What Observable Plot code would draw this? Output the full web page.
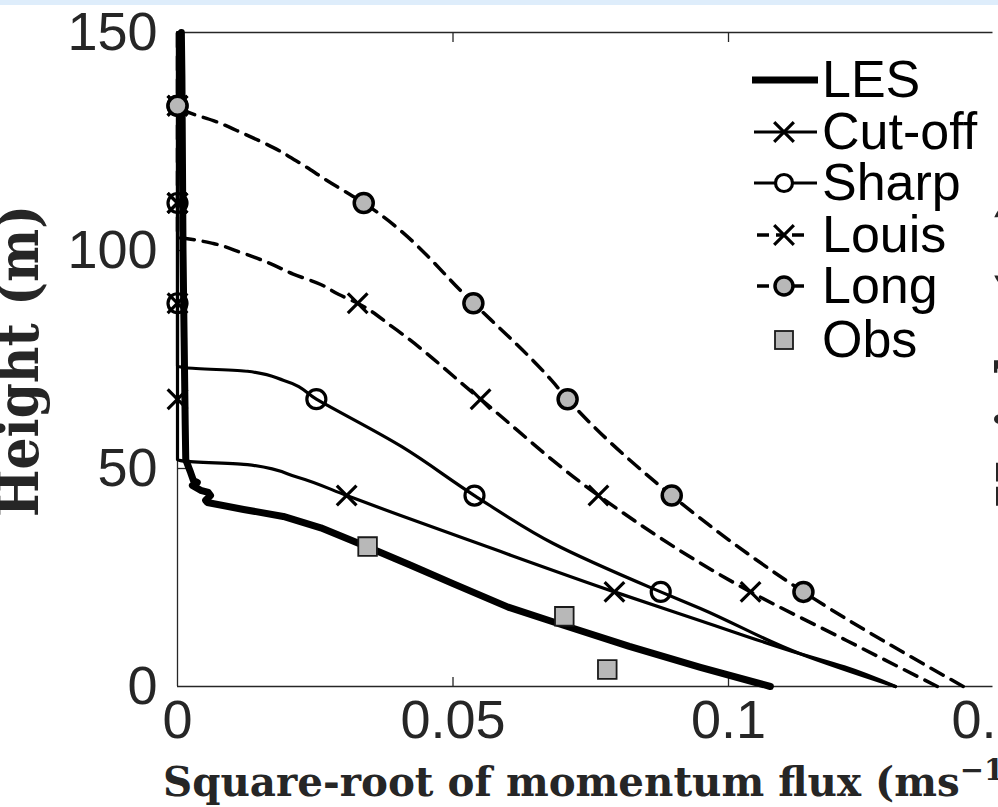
<!DOCTYPE html>
<html>
<head>
<meta charset="utf-8">
<script src="https://cdn.jsdelivr.net/npm/d3@7"></script>
<script src="https://cdn.jsdelivr.net/npm/@observablehq/plot@0.6"></script>
<style>
  html, body { margin: 0; padding: 0; background: #fff; overflow: hidden; }
  #chart { width: 998px; height: 807px; overflow: hidden; }
</style>
</head>
<body>
<div id="chart"></div>
<script>
// Axis ticks
const xTickValues = [0, 0.05, 0.1, 0.15];
const xTickLabels = ["0", "0.05", "0.1", "0.15"];
const yTickValues = [0, 50, 100, 150];
const yTickLabels = ["0", "50", "100", "150"];

// LES profile (thick line), listed from the top down
const lesFlux   = [0.0007, 0.0008, 0.0009, 0.0010, 0.0012, 0.0013, 0.0014, 0.0015, 0.0024, 0.0029, 0.0036, 0.0027, 0.0042, 0.0056, 0.0060, 0.0051, 0.0054, 0.0120, 0.0192, 0.0260, 0.0345, 0.0420, 0.0500, 0.0600, 0.0702, 0.0820, 0.0949, 0.1076];
const lesHeight = [150, 140, 120, 100, 80, 70, 60, 52, 49, 47.2, 46.8, 46.1, 45, 44.5, 43.8, 42.7, 42.2, 40.6, 39, 36.4, 32, 28, 23.6, 18.2, 14, 9.2, 4.4, 0];

// Cut-off scheme
const cutoffFlux   = [0, 0, 0.0011, 0.0127, 0.0218, 0.0307, 0.0405, 0.0550, 0.0793, 0.0949, 0.1130, 0.1210, 0.1303];
const cutoffHeight = [150, 52.0, 51.7, 50.9, 48, 43.8, 39.2, 32.6, 21.7, 15.1, 7.5, 4.5, 0];

// Sharp scheme
const sharpFlux   = [0, 0, 0.0015, 0.0127, 0.0193, 0.0252, 0.0407, 0.0539, 0.0682, 0.0877, 0.0949, 0.1130, 0.1303];
const sharpHeight = [150, 73.5, 73.1, 72.3, 70.2, 65.9, 55.0, 43.8, 32.8, 21.7, 17.9, 7.5, 0];

// Louis scheme
const louisFlux   = [0, 0, 0.0018, 0.0065, 0.0114, 0.0163, 0.0210, 0.0260, 0.0293, 0.0327, 0.0392, 0.0550, 0.0764, 0.1040, 0.1215, 0.1379];
const louisHeight = [150, 103.0, 102.7, 101.6, 99.6, 97.3, 94.6, 92.2, 89.9, 87.9, 82.3, 65.9, 43.8, 21.7, 10.5, 0];

// Long-tail scheme
const longFlux   = [0, 0.0020, 0.0065, 0.0120, 0.0174, 0.0223, 0.0272, 0.0338, 0.0537, 0.0679, 0.0708, 0.0897, 0.1136, 0.1426];
const longHeight = [133.2, 131.7, 129.8, 126.8, 123.6, 120, 116, 110.9, 87.9, 70.2, 65.9, 43.8, 21.7, 0];

// Marker levels shared by the four schemes
const markHeight     = [21.7, 43.8, 65.9, 87.9, 110.9, 133.2];
const cutoffMarkFlux = [0.0793, 0.0307, 0, 0, 0, 0];
const sharpMarkFlux  = [0.0877, 0.0539, 0.0252, 0, 0, 0];
const louisMarkFlux  = [0.1040, 0.0764, 0.0550, 0.0327, 0, 0];
const longMarkFlux   = [0.1136, 0.0897, 0.0708, 0.0537, 0.0338, 0];

// Observations
const obsFlux   = [0.0345, 0.0702, 0.0780];
const obsHeight = [32.1, 16.1, 3.9];

const legendNames = ["LES", "Cut-off", "Sharp", "Louis", "Long", "Obs"];

const pts = (xs, ys) => xs.map((x, i) => ({x, y: ys[i]}));
// profiles drawn as x = f(height), ordered by height
const profile = (xs, ys) => pts(xs, ys).sort((a, b) => a.y - b.y);
const ink = "#000";
const axisInk = "#262626";
const grayFill = "#b8b8b8";
const dash = "14,9";

const W = 998, H = 807, mL = 177, mT = 32, mB = 121;

const chart = Plot.plot({
  width: W,
  height: H,
  marginLeft: mL,
  marginRight: 0,
  marginTop: mT,
  marginBottom: mB,
  x: {domain: [0, 0.149]},
  y: {domain: [0, 150]},
  style: {fontFamily: "'Liberation Sans', Arial, Helvetica, sans-serif", color: axisInk, background: "#fff"},
  marks: [
    // box lines
    Plot.ruleX([0], {y1: 0, y2: 150, stroke: axisInk, strokeWidth: 1.3}),
    Plot.ruleY([0, 150], {x1: 0, x2: 0.148, stroke: axisInk, strokeWidth: 1.3}),
    // inward ticks
    Plot.axisX({ticks: [0.05, 0.1], tickSize: 9, dy: -9, tickFormat: () => "", label: null, stroke: axisInk, strokeWidth: 1.3}),
    Plot.axisX({anchor: "top", ticks: [0.05, 0.1], tickSize: 9, dy: 9, tickFormat: () => "", label: null, stroke: axisInk, strokeWidth: 1.3}),
    Plot.axisY({ticks: [50, 100], tickSize: 9, dx: 9, tickFormat: () => "", label: null, stroke: axisInk, strokeWidth: 1.3}),
    // tick labels
    Plot.axisX({ticks: xTickValues, tickSize: 0, tickPadding: 13, fontSize: 54, fill: axisInk,
      tickFormat: d => xTickLabels[xTickValues.indexOf(d)], label: null}),
    Plot.axisY({ticks: yTickValues, tickSize: 0, tickPadding: 20, fontSize: 54, fill: axisInk,
      tickFormat: d => yTickLabels[yTickValues.indexOf(d)], label: null}),

    // LES
    Plot.line(pts(lesFlux, lesHeight), {x: "x", y: "y", stroke: ink, strokeWidth: 7, curve: "linear", strokeLinejoin: "round"}),

    // Cut-off
    Plot.line(profile(cutoffFlux, cutoffHeight), {x: "x", y: "y", stroke: ink, strokeWidth: 3.2, curve: "monotone-y"}),
    Plot.dot(pts(cutoffMarkFlux, markHeight), {x: "x", y: "y", symbol: "times", r: 9, stroke: ink, strokeWidth: 3.2}),

    // Sharp
    Plot.line(profile(sharpFlux, sharpHeight), {x: "x", y: "y", stroke: ink, strokeWidth: 3.2, curve: "monotone-y"}),
    Plot.dot(pts(sharpMarkFlux, markHeight), {x: "x", y: "y", symbol: "circle", r: 9.5, stroke: ink, fill: "none", strokeWidth: 3.2}),

    // Louis
    Plot.line(profile(louisFlux, louisHeight), {x: "x", y: "y", stroke: ink, strokeWidth: 3.5, strokeDasharray: dash, curve: "monotone-y"}),
    Plot.dot(pts(louisMarkFlux, markHeight), {x: "x", y: "y", symbol: "times", r: 9, stroke: ink, strokeWidth: 3.2}),

    // Long
    Plot.line(profile(longFlux, longHeight), {x: "x", y: "y", stroke: ink, strokeWidth: 3.5, strokeDasharray: dash, curve: "monotone-y"}),
    Plot.dot(pts(longMarkFlux, markHeight), {x: "x", y: "y", symbol: "circle", r: 9.5, stroke: ink, fill: grayFill, strokeWidth: 3.5}),

    // Observations
    Plot.dot(pts(obsFlux, obsHeight), {x: "x", y: "y", symbol: "square", r: 10.5, stroke: "#1a1a1a", fill: grayFill, strokeWidth: 1.8})
  ]
});

const svg = d3.select(chart);

// thin band along the top edge
svg.insert("rect", ":first-child").attr("x", 0).attr("y", 0).attr("width", W).attr("height", 5).attr("fill", "#deedfb");

// axis titles
const serif = "'DejaVu Serif', 'Liberation Serif', serif";
svg.append("text")
  .attr("transform", "translate(38,361) rotate(-90)")
  .attr("text-anchor", "middle")
  .attr("font-family", serif).attr("font-weight", "bold").attr("font-size", 56)
  .attr("fill", axisInk)
  .attr("textLength", 312).attr("lengthAdjust", "spacingAndGlyphs")
  .text("Height (m)");

// neighbouring panel's y title, mostly outside the page
svg.append("text")
  .attr("transform", "translate(1037,352) rotate(-90)")
  .attr("text-anchor", "middle")
  .attr("font-family", serif).attr("font-weight", "bold").attr("font-size", 56)
  .attr("fill", axisInk)
  .attr("textLength", 312).attr("lengthAdjust", "spacingAndGlyphs")
  .text("Height (m)");

const xt = svg.append("text")
  .attr("x", 163).attr("y", 796)
  .attr("text-anchor", "start")
  .attr("font-family", serif).attr("font-weight", "bold").attr("font-size", 40.4)
  .attr("fill", axisInk);
xt.append("tspan").text("Square-root of momentum flux (ms");
xt.append("tspan").attr("dy", -16).attr("font-size", 29).text("\u22121");
xt.append("tspan").attr("dy", 16).text(")");

// legend
const lg = svg.append("g")
  .attr("font-family", "'Liberation Sans', Arial, Helvetica, sans-serif")
  .attr("font-size", 52).attr("fill", "#000").attr("text-anchor", "start");
const rowY = [80, 132, 183, 235, 286, 340];
const textX = 822;
legendNames.forEach((name, i) => {
  lg.append("text").attr("x", textX).attr("y", rowY[i] + 17).attr("text-anchor", "start").text(name);
});
const cx = 784;
const timesPath = d3.symbol(d3.symbolTimes, Math.PI * 81)();
// LES
lg.append("line").attr("x1", 752).attr("x2", 818).attr("y1", rowY[0]).attr("y2", rowY[0]).attr("stroke", ink).attr("stroke-width", 7);
// Cut-off
lg.append("line").attr("x1", 754).attr("x2", 817).attr("y1", rowY[1]).attr("y2", rowY[1]).attr("stroke", ink).attr("stroke-width", 3.2);
lg.append("path").attr("transform", `translate(${cx},${rowY[1]})`).attr("d", timesPath).attr("stroke", ink).attr("stroke-width", 3.2).attr("fill", "none");
// Sharp
lg.append("line").attr("x1", 754).attr("x2", 817).attr("y1", rowY[2]).attr("y2", rowY[2]).attr("stroke", ink).attr("stroke-width", 3.2);
lg.append("circle").attr("cx", cx).attr("cy", rowY[2]).attr("r", 8.5).attr("stroke", ink).attr("stroke-width", 3.2).attr("fill", "#fff");
// Louis
lg.append("line").attr("x1", 757).attr("x2", 804).attr("y1", rowY[3]).attr("y2", rowY[3]).attr("stroke", ink).attr("stroke-width", 3.5).attr("stroke-dasharray", "12,7,9,7,12");
lg.append("path").attr("transform", `translate(${cx},${rowY[3]})`).attr("d", timesPath).attr("stroke", ink).attr("stroke-width", 3.2).attr("fill", "none");
// Long
lg.append("line").attr("x1", 757).attr("x2", 804).attr("y1", rowY[4]).attr("y2", rowY[4]).attr("stroke", ink).attr("stroke-width", 3.5).attr("stroke-dasharray", "12,7,9,7,12");
lg.append("circle").attr("cx", cx).attr("cy", rowY[4]).attr("r", 9).attr("stroke", ink).attr("stroke-width", 3.5).attr("fill", grayFill);
// Obs
lg.append("rect").attr("x", cx - 9).attr("y", rowY[5] - 9).attr("width", 18).attr("height", 18).attr("stroke", "#1a1a1a").attr("stroke-width", 1.8).attr("fill", grayFill);

document.getElementById("chart").appendChild(chart);
</script>
</body>
</html>
